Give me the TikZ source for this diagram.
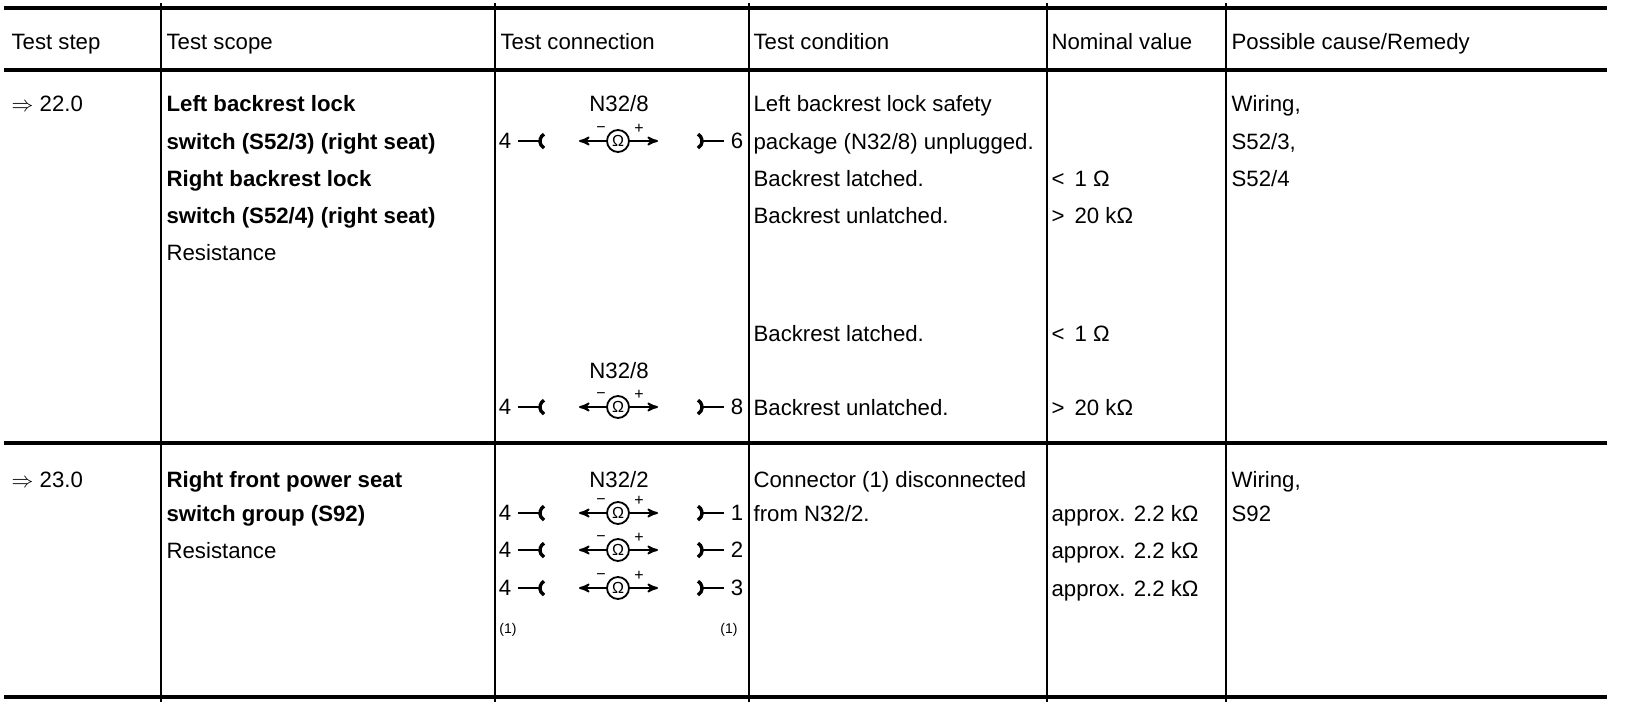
\documentclass[tikz,border=0pt]{standalone}
\usepackage{fontspec}
\setmainfont{Liberation Sans}
\usepackage{tikz}
\usetikzlibrary{arrows}

\begin{document}
\begin{tikzpicture}[x=0.5pt,y=-0.5pt,>=stealth',semithick]
\tikzstyle{every node}=[font=\fontsize{11.1}{13}\selectfont]
\tikzstyle{cell}=[anchor=base west,inner sep=0pt]
\tikzstyle{bcell}=[cell,font=\fontsize{11.1}{13}\selectfont\bfseries]
\tikzstyle{plug}=[anchor=base,inner sep=0pt]
\tikzstyle{pin}=[inner sep=3pt]
\tikzstyle{meter}=[shape=circle,draw=black,line width=0.9pt,minimum size=11pt,inner sep=0pt,font=\fontsize{8}{8}\selectfont]
\tikzstyle{sign}=[inner sep=0pt,font=\fontsize{8}{8}\selectfont]
\tikzstyle{small}=[inner sep=0pt,font=\fontsize{7}{8}\selectfont]
\tikzstyle{wire}=[line width=0.9pt]
\tikzstyle{socket}=[line width=1.7pt]
\useasboundingbox (0,0) rectangle (1632,706);

% table rules
\draw[line width=1.7pt] (4,8) -- (1607,8);
\draw[line width=2pt] (4,70) -- (1607,70);
\draw[line width=1.6pt] (4,443) -- (1607,443);
\draw[line width=1.7pt] (4,697) -- (1607,697);
\draw[line width=1pt] (161,3) -- (161,702) (495,3) -- (495,702) (749,3) -- (749,702)
  (1047,3) -- (1047,702) (1226,3) -- (1226,702);

% header
\node[cell] (H1) at (11,50) {Test step};
\node[cell] (H2) at (166,50) {Test scope};
\node[cell] (H3) at (500,50) {Test connection};
\node[cell] (H4) at (753,50) {Test condition};
\node[cell] (H5) at (1051,50) {Nominal value};
\node[cell] (H6) at (1231,50) {Possible cause/Remedy};

% step 22.0
\node[cell] (A1) at (11,112) {$\Rightarrow$ 22.0};
\node[bcell] (A2) at (166,112) {Left backrest lock};
\node[bcell] (A3) at (166,149) {switch (S52/3) (right seat)};
\node[bcell] (A4) at (166,186) {Right backrest lock};
\node[bcell] (A5) at (166,223) {switch (S52/4) (right seat)};
\node[cell] (A6) at (166,260) {Resistance};
\node[cell] (C1) at (753,112) {Left backrest lock safety};
\node[cell] (C2) at (753,149) {package (N32/8) unplugged.};
\node[cell] (C3) at (753,186) {Backrest latched.};
\node[cell] (C4) at (753,223) {Backrest unlatched.};
\node[cell] (C5) at (753,341) {Backrest latched.};
\node[cell] (C6) at (753,415) {Backrest unlatched.};
\node[cell] (V1) at (1051,186) {<\hspace{5pt}1 Ω};
\node[cell] (V2) at (1051,223) {>\hspace{5pt}20 kΩ};
\node[cell] (V3) at (1051,341) {<\hspace{5pt}1 Ω};
\node[cell] (V4) at (1051,415) {>\hspace{5pt}20 kΩ};
\node[cell] (F1) at (1231,112) {Wiring,};
\node[cell] (F2) at (1231,149) {S52/3,};
\node[cell] (F3) at (1231,186) {S52/4};

% N32/8 pins 4 and 6
\node[plug] (K1) at (619,112) {N32/8};
\node[pin] (L1) at (505,141) {4};
\coordinate (BL1) at (540,141);
\node[meter] (M1) at (618,141) {Ω};
\coordinate (ML1) at (579,141);
\coordinate (MR1) at (658,141);
\node[sign] (MN1) at (601,130) {−};
\node[sign] (MP1) at (639,129) {+};
\coordinate (BR1) at (702,141);
\node[pin] (R1) at (737,141) {6};
\draw[socket] ([xshift=2pt,yshift=3.4pt]BL1) arc[start angle=120,end angle=240,radius=4pt];
\draw[socket] ([xshift=-2pt,yshift=3.4pt]BR1) arc[start angle=60,end angle=-60,radius=4pt];
\path[wire] (L1) edge (BL1) (BR1) edge (R1);
\path[wire,->] (M1) edge (ML1) (M1) edge (MR1);

% N32/8 pins 4 and 8
\node[plug] (K2) at (619,378) {N32/8};
\node[pin] (L2) at (505,407) {4};
\coordinate (BL2) at (540,407);
\node[meter] (M2) at (618,407) {Ω};
\coordinate (ML2) at (579,407);
\coordinate (MR2) at (658,407);
\node[sign] (MN2) at (601,396) {−};
\node[sign] (MP2) at (639,395) {+};
\coordinate (BR2) at (702,407);
\node[pin] (R2) at (737,407) {8};
\draw[socket] ([xshift=2pt,yshift=3.4pt]BL2) arc[start angle=120,end angle=240,radius=4pt];
\draw[socket] ([xshift=-2pt,yshift=3.4pt]BR2) arc[start angle=60,end angle=-60,radius=4pt];
\path[wire] (L2) edge (BL2) (BR2) edge (R2);
\path[wire,->] (M2) edge (ML2) (M2) edge (MR2);

% step 23.0
\node[cell] (B1) at (11,487) {$\Rightarrow$ 23.0};
\node[bcell] (B2) at (166,487) {Right front power seat};
\node[bcell] (B3) at (166,521) {switch group (S92)};
\node[cell] (B4) at (166,558) {Resistance};
\node[cell] (D1) at (753,487) {Connector (1) disconnected};
\node[cell] (D2) at (753,521) {from N32/2.};
\node[cell] (W1) at (1051,521) {approx. 2.2 kΩ};
\node[cell] (W2) at (1051,558) {approx. 2.2 kΩ};
\node[cell] (W3) at (1051,596) {approx. 2.2 kΩ};
\node[cell] (G1) at (1231,487) {Wiring,};
\node[cell] (G2) at (1231,521) {S92};

% N32/2 pins 4 and 1, 2, 3
\node[plug] (K3) at (619,487) {N32/2};
\node[pin] (L3) at (505,513) {4};
\coordinate (BL3) at (540,513);
\node[meter] (M3) at (618,513) {Ω};
\coordinate (ML3) at (579,513);
\coordinate (MR3) at (658,513);
\node[sign] (MN3) at (601,502) {−};
\node[sign] (MP3) at (639,501) {+};
\coordinate (BR3) at (702,513);
\node[pin] (R3) at (737,513) {1};
\draw[socket] ([xshift=2pt,yshift=3.4pt]BL3) arc[start angle=120,end angle=240,radius=4pt];
\draw[socket] ([xshift=-2pt,yshift=3.4pt]BR3) arc[start angle=60,end angle=-60,radius=4pt];
\path[wire] (L3) edge (BL3) (BR3) edge (R3);
\path[wire,->] (M3) edge (ML3) (M3) edge (MR3);

\node[pin] (L4) at (505,550) {4};
\coordinate (BL4) at (540,550);
\node[meter] (M4) at (618,550) {Ω};
\coordinate (ML4) at (579,550);
\coordinate (MR4) at (658,550);
\node[sign] (MN4) at (601,539) {−};
\node[sign] (MP4) at (639,538) {+};
\coordinate (BR4) at (702,550);
\node[pin] (R4) at (737,550) {2};
\draw[socket] ([xshift=2pt,yshift=3.4pt]BL4) arc[start angle=120,end angle=240,radius=4pt];
\draw[socket] ([xshift=-2pt,yshift=3.4pt]BR4) arc[start angle=60,end angle=-60,radius=4pt];
\path[wire] (L4) edge (BL4) (BR4) edge (R4);
\path[wire,->] (M4) edge (ML4) (M4) edge (MR4);

\node[pin] (L5) at (505,588) {4};
\coordinate (BL5) at (540,588);
\node[meter] (M5) at (618,588) {Ω};
\coordinate (ML5) at (579,588);
\coordinate (MR5) at (658,588);
\node[sign] (MN5) at (601,577) {−};
\node[sign] (MP5) at (639,576) {+};
\coordinate (BR5) at (702,588);
\node[pin] (R5) at (737,588) {3};
\draw[socket] ([xshift=2pt,yshift=3.4pt]BL5) arc[start angle=120,end angle=240,radius=4pt];
\draw[socket] ([xshift=-2pt,yshift=3.4pt]BR5) arc[start angle=60,end angle=-60,radius=4pt];
\path[wire] (L5) edge (BL5) (BR5) edge (R5);
\path[wire,->] (M5) edge (ML5) (M5) edge (MR5);

\node[small] (E1) at (508,630) {(1)};
\node[small] (E2) at (729,630) {(1)};

\end{tikzpicture}
\end{document}
